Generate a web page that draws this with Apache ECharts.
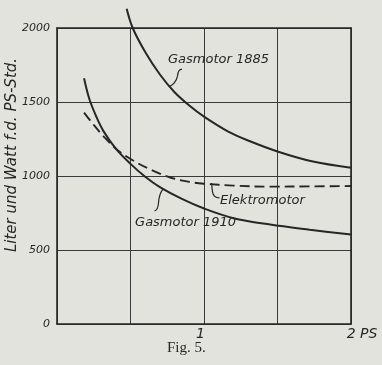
<!DOCTYPE html>
<html>
<head>
<meta charset="utf-8">
<script src="https://cdn.jsdelivr.net/npm/echarts@6/dist/echarts.min.js"></script>
<style>
html,body{margin:0;padding:0;background:#e3e3de;}
#c{width:382px;height:365px;}
</style>
</head>
<body>
<div id="c"></div>
<script>
// x values in PS, y values in Liter / Watt per PS-Std.
const gas1885X = [0.474, 0.515, 0.60, 0.70, 0.80, 0.90, 1.0, 1.165, 1.3, 1.5, 1.733, 2.0];
const gas1885Y = [2130, 2000, 1838, 1686, 1566, 1476, 1401, 1300, 1240, 1166, 1100, 1056];

const gas1910X = [0.184, 0.22, 0.27, 0.315, 0.4, 0.5, 0.6, 0.7, 0.85, 1.0, 1.2, 1.45, 1.72, 2.0];
const gas1910Y = [1660, 1520, 1395, 1305, 1185, 1082, 995, 925, 845, 780, 715, 672, 637, 604];

const elekX = [0.184, 0.25, 0.315, 0.4, 0.5, 0.633, 0.77, 0.9, 1.0, 1.2, 1.45, 1.72, 2.0];
const elekY = [1428, 1345, 1270, 1185, 1115, 1045, 990, 960, 948, 935, 928, 930, 932];

const yTicks = [0, 500, 1000, 1500, 2000];
const xTickLabels = {1: '1', 2: '2 PS'};
const seriesNames = ['Gasmotor 1885', 'Gasmotor 1910', 'Elektromotor'];
const yAxisName = 'Liter und Watt f.d. PS-Std.';
const caption = 'Fig. 5.';

const zip = (xs, ys) => xs.map((x, i) => [x, ys[i]]);
const ink = '#262626';
const font = 'DejaVu Sans';

const chart = echarts.init(document.getElementById('c'), null, {renderer: 'canvas'});
const lineBase = {type: 'line', showSymbol: false, smooth: 0.35, clip: false, silent: true};

chart.setOption({
  backgroundColor: '#e3e3de',
  animation: false,
  title: {
    text: caption, left: 167, top: 341, padding: 0,
    textStyle: {fontFamily: 'Liberation Serif', fontSize: 15, fontWeight: 'normal', color: ink}
  },
  grid: {left: 57, top: 28, right: 31, bottom: 41, containLabel: false},
  xAxis: [{
    type: 'value', min: 0, max: 2, interval: 0.5,
    axisLine: {show: true, lineStyle: {color: ink, width: 1.6}},
    axisTick: {show: false},
    splitLine: {show: true, lineStyle: {color: '#3a3a3a', width: 1}},
    axisLabel: {
      margin: 3,
      formatter: v => v === 1 ? '{a|' + xTickLabels[1] + '}' : (v === 2 ? '{b|' + xTickLabels[2] + '}' : ''),
      rich: {
        a: {fontFamily: font, fontStyle: 'italic', fontSize: 14, color: ink, padding: [0, 7, 0, 0]},
        b: {fontFamily: font, fontStyle: 'italic', fontSize: 14, color: ink, padding: [0, 0, 0, 22]}
      }
    }
  }, {
    type: 'value', min: 0, max: 2, position: 'top',
    axisLine: {show: true, onZero: false, lineStyle: {color: ink, width: 1.6}},
    axisTick: {show: false}, axisLabel: {show: false}, splitLine: {show: false}
  }],
  yAxis: [{
    type: 'value', min: 0, max: 2000, interval: 500,
    axisLine: {show: true, lineStyle: {color: ink, width: 1.6}},
    axisTick: {show: false},
    splitLine: {show: true, lineStyle: {color: '#3a3a3a', width: 1}},
    axisLabel: {
      margin: 7, fontFamily: font, fontStyle: 'italic', fontSize: 11, color: ink,
      formatter: v => yTicks.includes(v) ? String(v) : ''
    }
  }, {
    type: 'value', min: 0, max: 2000, position: 'right',
    axisLine: {show: true, onZero: false, lineStyle: {color: ink, width: 1.6}},
    axisTick: {show: false}, axisLabel: {show: false}, splitLine: {show: false}
  }],
  series: [
    Object.assign({}, lineBase, {name: seriesNames[0], data: zip(gas1885X, gas1885Y),
      lineStyle: {color: ink, width: 2}}),
    Object.assign({}, lineBase, {name: seriesNames[1], data: zip(gas1910X, gas1910Y),
      lineStyle: {color: ink, width: 2}}),
    Object.assign({}, lineBase, {name: seriesNames[2], data: zip(elekX, elekY),
      lineStyle: {color: ink, width: 1.9, type: [10, 5]}})
  ]
});

// annotations: text position and leader anchor in data coordinates;
// leader segments are small pixel offsets from the anchor [x1,y1,cpx,cpy,x2,y2]
const notes = [
  {text: seriesNames[0], at: [0.755, 1784], anchor: [0.762, 1601],
   segs: [[13, -18, 9, -18, 8.5, -11], [8.5, -11, 7, -4, 0, 0]]},
  {text: seriesNames[1], at: [0.531, 682], anchor: [0.721, 912],
   segs: [[0, 0, -4, 5, -4.5, 14], [-4.5, 14, -5, 21, -8.5, 22]]},
  {text: seriesNames[2], at: [1.109, 831], anchor: [1.051, 953],
   segs: [[0, 0, 0.5, 4.5, 1, 9], [1, 9, 2, 15, 8, 15]]}
];
const px = d => chart.convertToPixel({xAxisIndex: 0, yAxisIndex: 0}, d);
const graphics = [];
notes.forEach(n => {
  const p = px(n.at);
  graphics.push({type: 'text', x: p[0], y: p[1], silent: true,
    style: {text: n.text, fill: ink, font: 'italic 13px "' + font + '"', textAlign: 'left', textVerticalAlign: 'middle'}});
  const a = px(n.anchor);
  n.segs.forEach(s => {
    graphics.push({type: 'bezierCurve', x: a[0], y: a[1], silent: true,
      shape: {x1: s[0], y1: s[1], cpx1: s[2], cpy1: s[3], x2: s[4], y2: s[5]},
      style: {fill: null, stroke: ink, lineWidth: 1.2}});
  });
});
graphics.push({type: 'text', x: 12, y: 155, rotation: Math.PI / 2, silent: true,
  style: {text: yAxisName, fill: ink, font: 'italic 15px "' + font + '"', textAlign: 'center', textVerticalAlign: 'middle'}});
chart.setOption({graphic: graphics});
</script>
</body>
</html>
